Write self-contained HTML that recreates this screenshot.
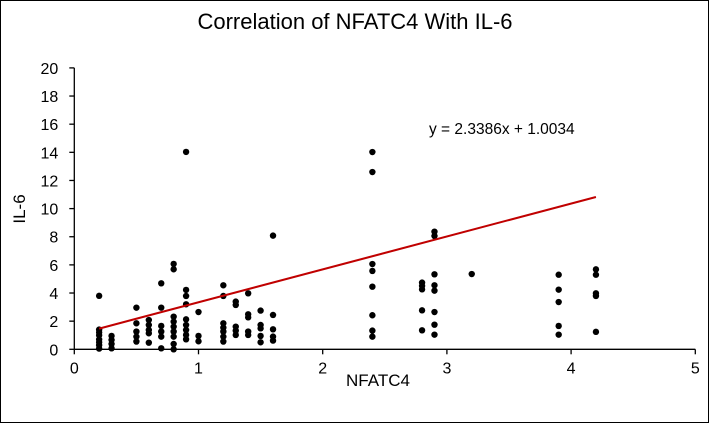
<!DOCTYPE html>
<html><head><meta charset="utf-8"><style>
html,body{margin:0;padding:0;background:#fff}
svg{display:block;font-family:"Liberation Sans",sans-serif}
</style></head><body>
<svg width="709" height="423" viewBox="0 0 709 423">
<rect x="0.5" y="0.5" width="708" height="422" fill="#fff" stroke="#000"/>
<text x="355" y="29" text-anchor="middle" font-size="22" fill="#000">Correlation of NFATC4 With  IL-6</text>
<g id="axes"></g>
<g id="marks"></g>
<text x="429" y="134" font-size="15.5" fill="#000">y = 2.3386x + 1.0034</text>
<text x="378" y="386" text-anchor="middle" font-size="17" fill="#000">NFATC4</text>
<text transform="translate(25,209) rotate(-90)" text-anchor="middle" font-size="17" fill="#000">IL-6</text>
</svg>
<script>
const xTicks=[0,1,2,3,4,5];
const yTicks=[0,2,4,6,8,10,12,14,16,18,20];
const xs=[0.2,0.2,0.2,0.2,0.2,0.2,0.2,0.2,
0.3,0.3,0.3,0.3,
0.5,0.5,0.5,0.5,0.5,
0.6,0.6,0.6,0.6,0.6,
0.7,0.7,0.7,0.7,0.7,0.7,
0.8,0.8,0.8,0.8,0.8,0.8,0.8,0.8,0.8,
0.9,0.9,0.9,0.9,0.9,0.9,0.9,0.9,0.9,
1.0,1.0,1.0,
1.2,1.2,1.2,1.2,1.2,1.2,1.2,
1.3,1.3,1.3,1.3,1.3,
1.4,1.4,1.4,1.4,1.4,
1.5,1.5,1.5,1.5,1.5,
1.6,1.6,1.6,1.6,1.6,
2.4,2.4,2.4,2.4,2.4,2.4,2.4,2.4,
2.8,2.8,2.8,2.8,2.8,
2.9,2.9,2.9,2.9,2.9,2.9,2.9,2.9,
3.2,
3.9,3.9,3.9,3.9,3.9,
4.2,4.2,4.2,4.2,4.2];
const ys=[3.8,1.4,1.2,1.0,0.7,0.5,0.3,0.05,
0.95,0.66,0.38,0.07,
2.96,1.85,1.26,0.9,0.55,
2.08,1.73,1.37,1.14,0.47,
4.69,2.96,1.66,1.26,0.9,0.07,
6.07,5.69,2.32,1.97,1.61,1.26,0.9,0.38,0.0,
14.03,4.22,3.79,3.2,2.13,1.73,1.37,1.02,0.71,
2.65,0.95,0.57,
4.55,3.79,1.85,1.54,1.26,0.9,0.55,
3.39,3.15,1.61,1.33,1.02,
3.98,2.49,2.27,1.26,1.02,
2.75,1.73,1.49,0.95,0.5,
8.08,2.44,1.42,0.9,0.62,
14.02,12.6,6.06,5.57,4.45,2.42,1.33,0.9,
4.74,4.5,4.26,2.77,1.35,
8.36,8.05,5.33,4.55,4.17,2.65,1.75,1.04,
5.35,
5.3,4.24,3.36,1.66,1.04,
5.68,5.3,3.98,3.79,1.24];
const slope=[2.3386], intercept=[1.0034], fitRange=[0.2,4.2];
const NS="http://www.w3.org/2000/svg";
const X0=74.3,XU=124.2,Y0=349.3,YU=14.07;
const sx=v=>X0+v*XU, sy=v=>Y0-v*YU;
function mk(t,a,p){const e=document.createElementNS(NS,t);for(const k in a)e.setAttribute(k,a[k]);p.appendChild(e);return e;}
const ax=document.getElementById('axes'), mg=document.getElementById('marks');
let l=mk('line',{x1:sx(0),y1:sy(0),x2:sx(5),y2:sy(0),stroke:'#000','stroke-width':1.3},ax);


l=mk('line',{x1:sx(0),y1:sy(0),x2:sx(0),y2:sy(20),stroke:'#000','stroke-width':1.3},ax);


xTicks.forEach(v=>{
 const t=mk('line',{x1:sx(v),y1:sy(0),x2:sx(v),y2:sy(0)+5,stroke:'#000','stroke-width':1.3},ax);
 
 
 const tx=mk('text',{x:sx(v),y:sy(0)+24,'text-anchor':'middle','font-size':16},ax);
 tx.textContent=v;
 
 
});
yTicks.forEach(v=>{
 const t=mk('line',{x1:sx(0)-5,y1:sy(v),x2:sx(0),y2:sy(v),stroke:'#000','stroke-width':1.3},ax);
 
 
 const tx=mk('text',{x:sx(0)-16,y:sy(v)+6,'text-anchor':'end','font-size':16},ax);
 tx.textContent=v;
 
 
});
xs.forEach((x,i)=>{
 const c=mk('circle',{cx:sx(x),cy:sy(ys[i]),r:3.2,fill:'#000'},mg);
 
 
});
const tl=mk('line',{x1:sx(fitRange[0]),y1:sy(slope[0]*fitRange[0]+intercept[0]),x2:sx(fitRange[1]),y2:sy(slope[0]*fitRange[1]+intercept[0]),stroke:'#c00000','stroke-width':2},mg);


</script>
</body></html>
